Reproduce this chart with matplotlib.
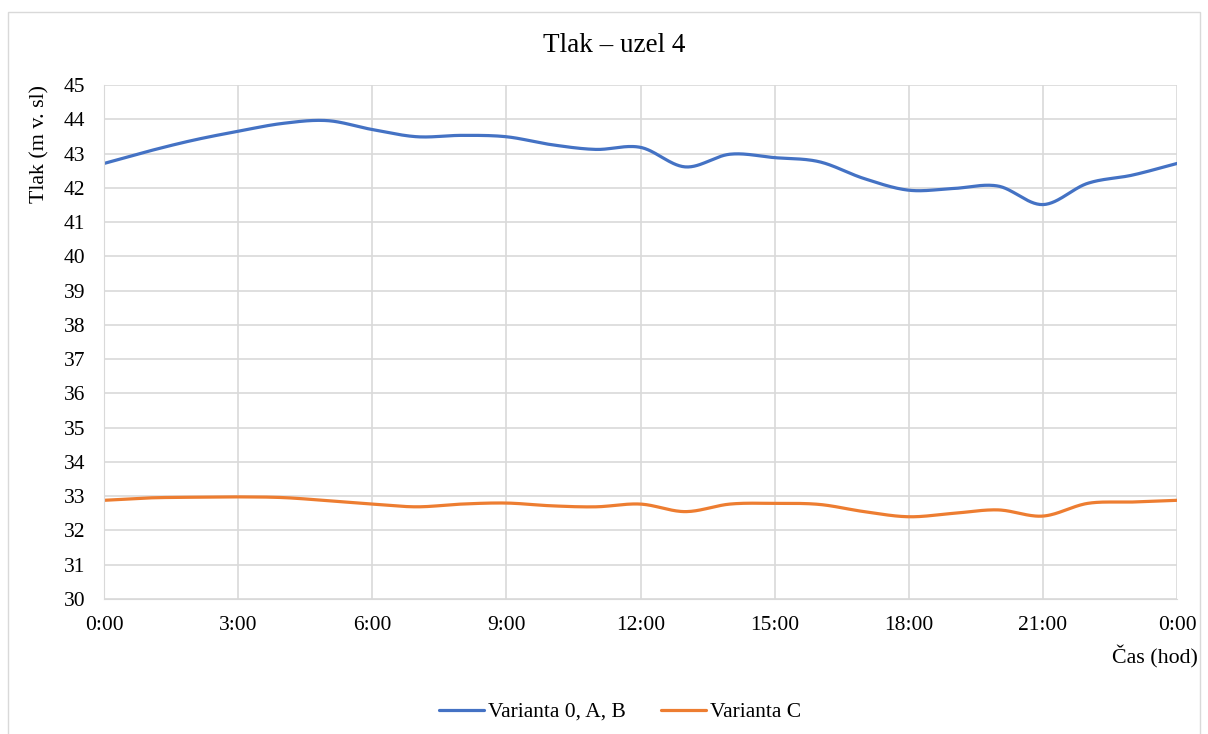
import numpy as np
import matplotlib
matplotlib.use("Agg")
import matplotlib.pyplot as plt
from matplotlib.patches import Rectangle

plt.rcParams["font.family"] = ["Liberation Serif", "DejaVu Serif"]

hours = list(range(25))
tick_hours = [0, 3, 6, 9, 12, 15, 18, 21, 24]
tick_labels = ["0:00", "3:00", "6:00", "9:00", "12:00", "15:00", "18:00", "21:00", "0:00"]

varianta_0ab = [42.71, 43.07, 43.39, 43.65, 43.88, 43.96, 43.70, 43.49, 43.53, 43.49,
                43.26, 43.12, 43.18, 42.61, 42.98, 42.88, 42.76, 42.27, 41.93, 41.98,
                42.05, 41.51, 42.13, 42.37, 42.71]
varianta_c = [32.88, 32.95, 32.97, 32.98, 32.96, 32.87, 32.77, 32.69, 32.77, 32.80,
              32.72, 32.69, 32.77, 32.55, 32.77, 32.79, 32.76, 32.55, 32.40, 32.50,
              32.60, 32.42, 32.79, 32.83, 32.88]


def smooth(x, y, n=30):
    # Catmull-Rom style smoothing, roughly what Excel does with "smoothed line"
    x = np.asarray(x, float)
    y = np.asarray(y, float)
    px = np.concatenate([[2 * x[0] - x[1]], x, [2 * x[-1] - x[-2]]])
    py = np.concatenate([[2 * y[0] - y[1]], y, [2 * y[-1] - y[-2]]])
    xs, ys = [], []
    t = np.linspace(0, 1, n, endpoint=False)
    for i in range(1, len(px) - 2):
        p0, p1, p2, p3 = py[i - 1], py[i], py[i + 1], py[i + 2]
        c1 = p1 + (p2 - p0) / 6
        c2 = p2 - (p3 - p1) / 6
        ys.append((1 - t) ** 3 * p1 + 3 * (1 - t) ** 2 * t * c1 + 3 * (1 - t) * t ** 2 * c2 + t ** 3 * p2)
        xs.append(px[i] + t * (px[i + 1] - px[i]))
    xs.append([x[-1]])
    ys.append([y[-1]])
    return np.concatenate(xs), np.concatenate(ys)


W, H = 1208, 734
fig = plt.figure(figsize=(W / 100, H / 100), dpi=100)
fig.patches.append(Rectangle((8 / W, -0.01), 1192 / W, 1 - 12 / H + 0.01,
                             transform=fig.transFigure, fill=False,
                             edgecolor="#d9d9d9", linewidth=1.0))

ax = fig.add_axes([104 / W, 1 - 599 / H, (1177 - 104) / W, (599 - 85) / H])

grid_c = "#d9d9d9"
bx, by = smooth(hours, varianta_0ab)
cx, cy = smooth(hours, varianta_c)
ax.plot(bx, by, color="#4472C4", linewidth=2.3, label="Varianta 0, A, B", solid_capstyle="round")
ax.plot(cx, cy, color="#ED7D31", linewidth=2.3, label="Varianta C", solid_capstyle="round")

ax.set_xlim(0, 24)
ax.set_ylim(30, 45)
ax.set_xticks(tick_hours)
ax.set_xticklabels(tick_labels)
ax.set_yticks(range(30, 46))
ax.grid(True, color=grid_c, linewidth=1.2)
ax.set_axisbelow(True)
ax.tick_params(length=0, labelsize=15.5)
ax.tick_params(axis="x", pad=12)
ax.tick_params(axis="y", pad=13.5)
for s in ax.spines.values():
    s.set_visible(False)
ax.spines["left"].set_visible(True)
ax.spines["left"].set_color(grid_c)
ax.spines["bottom"].set_visible(True)
ax.spines["bottom"].set_color(grid_c)

fig.text(614 / W, 1 - 46 / H, "Tlak – uzel 4", ha="center", va="center", fontsize=19.5)
fig.text(40 / W, 1 - 85 / H, "Tlak (m v. sl)", rotation=90, ha="center", va="top", fontsize=15.8)
fig.text(1198 / W, 1 - 657 / H, "Čas (hod)", ha="right", va="center", fontsize=15.8)

fig.legend(loc="center", bbox_to_anchor=(620 / W, 1 - 712 / H), ncol=2, frameon=False,
           fontsize=15.5, handlelength=2.1, handletextpad=0.2, columnspacing=1.6)

fig.savefig("out.png", dpi=100)
